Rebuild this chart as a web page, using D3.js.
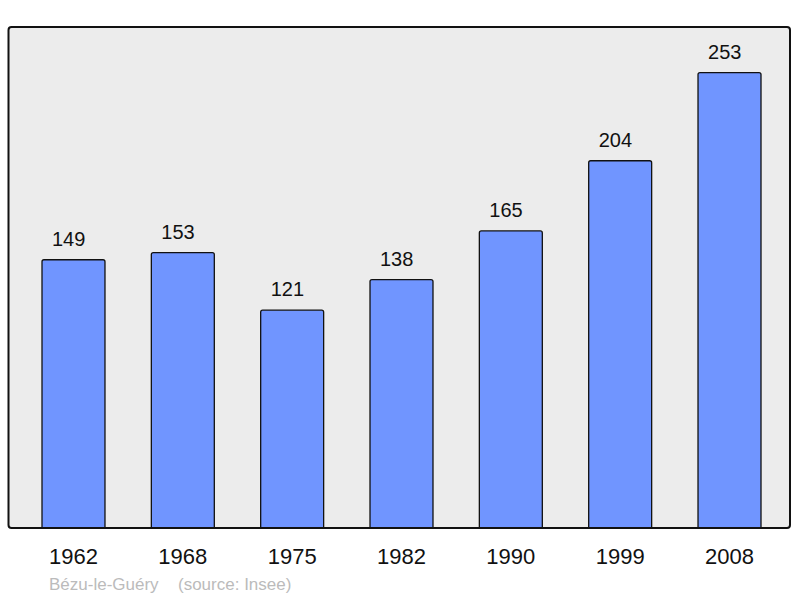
<!DOCTYPE html>
<html>
  <head>
    <meta charset="utf-8">
    <title>Bézu-le-Guéry population</title>
    <script src="https://cdn.jsdelivr.net/npm/d3@7/dist/d3.min.js"></script>
    <style>
      body { margin: 0; background: #fff; }
      svg text { font-family: "Liberation Sans", Arial, sans-serif; }
    </style>
  </head>

  <body>
    <svg id="chart" width="800" height="598"></svg>

    <script>
      // data
      years = ["1962", "1968", "1975", "1982", "1990", "1999", "2008"];
      population = [149, 153, 121, 138, 165, 204, 253];
      footer = ["Bézu-le-Guéry", "(source: Insee)"];

      // layout
      frame = { left: 8.5, top: 27, right: 790, bottom: 528 };
      svg = d3.select("#chart");

      x = d3.scaleBand()
        .domain(years)
        .range([9.2, 793.8])
        .paddingInner(0.424)
        .paddingOuter(0.3);
      y = d3.scaleLinear()
        .domain([0, d3.max(population) * 1.1])
        .range([frame.bottom, frame.top]);

      // plot background
      svg.append("rect")
        .attr("x", frame.left)
        .attr("y", frame.top)
        .attr("width", frame.right - frame.left)
        .attr("height", frame.bottom - frame.top)
        .attr("rx", 3)
        .attr("fill", "#ececec");

      // bars
      svg.selectAll(".bar")
        .data(population)
      .enter().append("rect")
        .classed("bar", true)
        .attr("x", function(d, i) { return x(years[i]); })
        .attr("y", function(d) { return y(d); })
        .attr("width", x.bandwidth())
        .attr("height", function(d) { return frame.bottom - y(d) + 3; })
        .attr("rx", 2)
        .attr("fill", "#7095ff")
        .attr("stroke", "#111")
        .attr("stroke-width", 1.3);

      // frame outline drawn on top so it covers the bar bottoms
      svg.append("rect")
        .attr("x", frame.left)
        .attr("y", frame.top)
        .attr("width", frame.right - frame.left)
        .attr("height", frame.bottom - frame.top)
        .attr("rx", 3)
        .attr("fill", "none")
        .attr("stroke", "#111")
        .attr("stroke-width", 2);

      // hide bar overflow below frame
      svg.append("rect")
        .attr("x", 0)
        .attr("y", frame.bottom + 1)
        .attr("width", 800)
        .attr("height", 10)
        .attr("fill", "#fff");

      // value labels
      svg.selectAll(".value")
        .data(population)
      .enter().append("text")
        .classed("value", true)
        .attr("x", function(d, i) { return x(years[i]) + 10; })
        .attr("y", function(d) { return y(d) - 14; })
        .attr("font-size", 20)
        .attr("fill", "#111")
        .text(function(d) { return d; });

      // year labels
      svg.selectAll(".year")
        .data(years)
      .enter().append("text")
        .classed("year", true)
        .attr("x", function(d) { return x(d) + x.bandwidth() / 2; })
        .attr("y", 564)
        .attr("text-anchor", "middle")
        .attr("font-size", 22)
        .attr("fill", "#111")
        .text(function(d) { return d; });

      // source line
      svg.append("text")
        .attr("x", 49)
        .attr("y", 590)
        .attr("font-size", 17)
        .attr("fill", "#bbb")
        .text(footer[0]);
      svg.append("text")
        .attr("x", 178)
        .attr("y", 590)
        .attr("font-size", 17)
        .attr("fill", "#bbb")
        .text(footer[1]);
    </script>
  </body>
</html>
